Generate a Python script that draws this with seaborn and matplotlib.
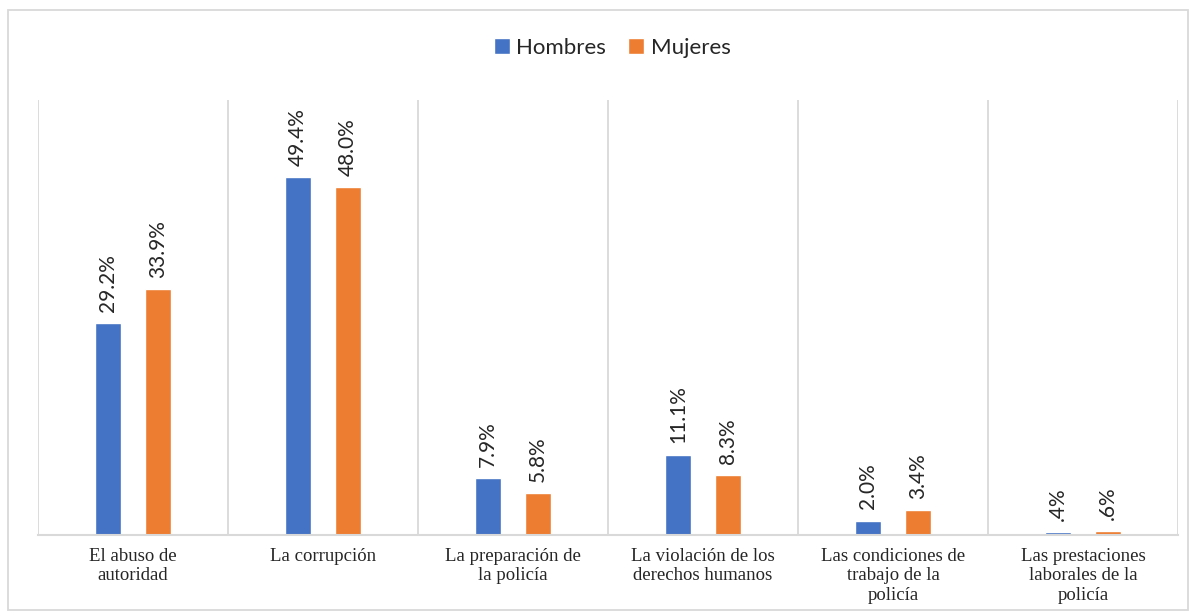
import pandas as pd
import seaborn as sns
import matplotlib.pyplot as plt
from matplotlib.patches import Rectangle

# Data (percent)
categories = [
    "El abuso de\nautoridad",
    "La corrupción",
    "La preparación de\nla policía",
    "La violación de los\nderechos humanos",
    "Las condiciones de\ntrabajo de la\npolicía",
    "Las prestaciones\nlaborales de la\npolicía",
]
hombres = [29.2, 49.4, 7.9, 11.1, 2.0, 0.4]
mujeres = [33.9, 48.0, 5.8, 8.3, 3.4, 0.6]
series = ["Hombres", "Mujeres"]
colors = ["#4472C4", "#ED7D31"]

df = pd.DataFrame({
    "categoria": categories * 2,
    "valor": hombres + mujeres,
    "sexo": [series[0]] * len(categories) + [series[1]] * len(categories),
})

sns.set_style("white")
plt.rcParams["font.family"] = ["Lato", "DejaVu Sans"]

fig = plt.figure(figsize=(11.96, 6.13), dpi=100)
ax = fig.add_axes([0.0318, 0.1272, 0.9532, 0.7098])

sns.barplot(data=df, x="categoria", y="valor", hue="sexo", palette=colors,
            saturation=1, width=0.526, gap=0.48, ax=ax, legend=True)

# value labels, rotated, Excel style (".4%" without the leading zero)
for cont in ax.containers:
    labels = [f"{b.get_height():.1f}%".lstrip("0") for b in cont]
    ax.bar_label(cont, labels=labels, rotation=90, padding=8, fontsize=15)

ax.set_ylim(0, 60)
ax.set_xlim(-0.5, len(categories) - 0.5)
ax.set_yticks([])
ax.set_xlabel("")
ax.set_ylabel("")

# vertical separators between categories
ax.set_xticks([i - 0.5 for i in range(len(categories) + 1)], minor=True)
ax.grid(axis="x", which="minor", color="#D9D9D9", linewidth=1.3)
ax.grid(axis="x", which="major", visible=False)
ax.tick_params(axis="x", which="both", length=0, pad=9)
ax.set_xticklabels(categories, fontfamily="Liberation Serif", fontsize=13.5,
                   linespacing=1.2, va="top")

for s in ["top", "left", "right"]:
    ax.spines[s].set_visible(False)
ax.spines["bottom"].set_color("#D9D9D9")
ax.spines["bottom"].set_linewidth(1.5)

leg = ax.legend(loc="center", bbox_to_anchor=(0.512, 0.922),
                bbox_transform=fig.transFigure, ncol=2, frameon=False,
                fontsize=16, handlelength=0.7, handleheight=0.7,
                handletextpad=0.3, columnspacing=1.0)

fig.patches.append(Rectangle((0.0067, 0.005), 0.9866, 0.979,
                             transform=fig.transFigure, fill=False,
                             edgecolor="#D9D9D9", linewidth=1.3))

fig.savefig("out.png", dpi=100)
